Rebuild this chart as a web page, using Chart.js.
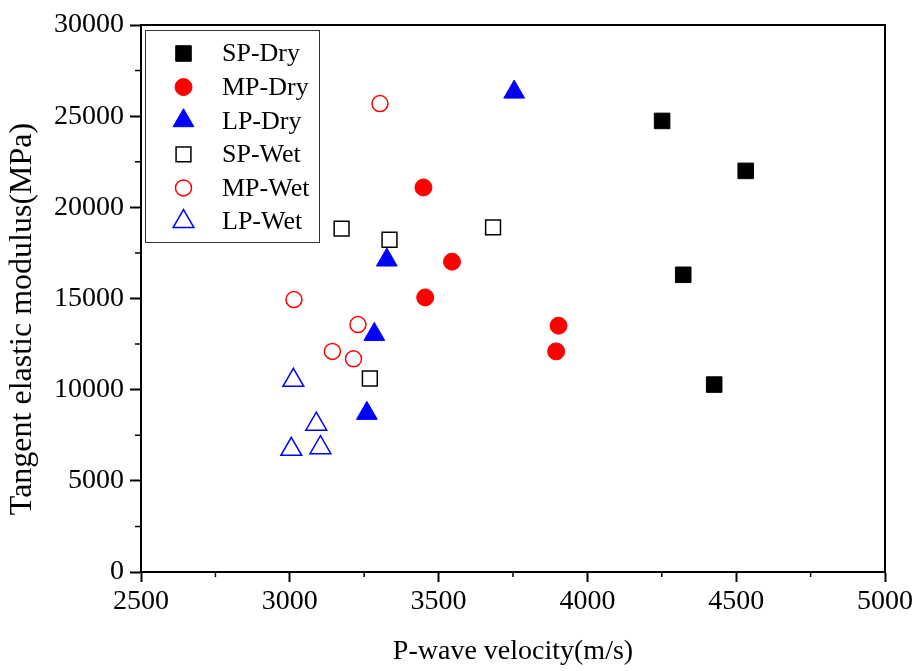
<!DOCTYPE html>
<html>
<head>
<meta charset="utf-8">
<script src="https://cdn.jsdelivr.net/npm/chart.js@4/dist/chart.umd.min.js"></script>
<style>
  body { margin: 0; background: #fff; }
  #wrap { width: 919px; height: 671px; }
</style>
</head>
<body>
<div id="wrap"><canvas id="modChart" width="919" height="671"></canvas></div>
<script>
// data
const seriesNames = ['SP-Dry', 'MP-Dry', 'LP-Dry', 'SP-Wet', 'MP-Wet', 'LP-Wet'];

const spDryX = [4251, 4532, 4322, 4426];
const spDryY = [24740, 22000, 16300, 10280];
const mpDryX = [3449, 3545, 3455, 3903, 3895];
const mpDryY = [21090, 17020, 15060, 13510, 12100];
const lpDryX = [3754, 3326, 3284, 3259];
const lpDryY = [26320, 17110, 13030, 8700];
const spWetX = [3174, 3335, 3683, 3269];
const spWetY = [18830, 18220, 18900, 10610];
const mpWetX = [3303, 3014, 3229, 3143, 3214];
const mpWetY = [25690, 14940, 13570, 12100, 11690];
const lpWetX = [3012, 3089, 3005, 3103];
const lpWetY = [10510, 8110, 6730, 6820];

const xTicks = [2500, 3000, 3500, 4000, 4500, 5000];
const yTicks = [0, 5000, 10000, 15000, 20000, 25000, 30000];

const FONT = '"Liberation Serif", "Times New Roman", serif';

function pts(xs, ys) {
    return xs.map((x, i) => ({ x: x, y: ys[i] }));
}

// marker styles per series (same order as seriesNames)
const styles = [
    { shape: 'rect', r: 11, fill: '#000000', stroke: '#000000', lw: 1 },
    { shape: 'circle', r: 8.5, fill: '#ff0000', stroke: '#ff0000', lw: 1 },
    { shape: 'triangle', r: 12, fill: '#0000ff', stroke: '#0000ff', lw: 1 },
    { shape: 'rect', r: 10.5, fill: 'rgba(0,0,0,0)', stroke: '#000000', lw: 1.5 },
    { shape: 'circle', r: 8, fill: 'rgba(0,0,0,0)', stroke: '#ff0000', lw: 1.5 },
    { shape: 'triangle', r: 12, fill: 'rgba(0,0,0,0)', stroke: '#0000ff', lw: 1.5 }
];

const allData = [
    pts(spDryX, spDryY), pts(mpDryX, mpDryY), pts(lpDryX, lpDryY),
    pts(spWetX, spWetY), pts(mpWetX, mpWetY), pts(lpWetX, lpWetY)
];

const datasets = seriesNames.map((name, i) => ({
    label: name,
    data: allData[i],
    pointStyle: styles[i].shape,
    pointRadius: styles[i].r,
    pointHoverRadius: styles[i].r,
    backgroundColor: styles[i].fill,
    borderColor: styles[i].stroke,
    borderWidth: styles[i].lw,
    showLine: false
}));

function drawMarker(ctx, s, x, y) {
    ctx.save();
    ctx.beginPath();
    if (s.shape === 'rect') {
        const h = Math.SQRT1_2 * s.r;
        ctx.rect(x - h, y - h, 2 * h, 2 * h);
    } else if (s.shape === 'circle') {
        ctx.arc(x, y, s.r, 0, Math.PI * 2);
    } else {
        let a = 0;
        ctx.moveTo(x + Math.sin(a) * s.r, y - Math.cos(a) * s.r);
        a += Math.PI * 2 / 3;
        ctx.lineTo(x + Math.sin(a) * s.r, y - Math.cos(a) * s.r);
        a += Math.PI * 2 / 3;
        ctx.lineTo(x + Math.sin(a) * s.r, y - Math.cos(a) * s.r);
    }
    ctx.closePath();
    ctx.fillStyle = s.fill;
    ctx.fill();
    ctx.lineWidth = s.lw;
    ctx.strokeStyle = s.stroke;
    ctx.stroke();
    ctx.restore();
}

// frame on top/right, minor ticks, y title and the boxed legend inside the plot
const framePlugin = {
    id: 'frame',
    afterDraw(chart) {
        const ctx = chart.ctx;
        const a = chart.chartArea;
        const xs = chart.scales.x;
        const ys = chart.scales.y;
        ctx.save();
        ctx.strokeStyle = '#000';
        ctx.lineWidth = 2;
        ctx.beginPath();
        ctx.moveTo(a.left - 1, a.top);
        ctx.lineTo(a.right, a.top);
        ctx.lineTo(a.right, a.bottom);
        ctx.stroke();

        // minor ticks
        ctx.lineWidth = 1.5;
        ctx.beginPath();
        for (let i = 0; i < xTicks.length - 1; i++) {
            const px = xs.getPixelForValue((xTicks[i] + xTicks[i + 1]) / 2);
            ctx.moveTo(px, a.bottom);
            ctx.lineTo(px, a.bottom + 5);
        }
        for (let i = 0; i < yTicks.length - 1; i++) {
            const py = ys.getPixelForValue((yTicks[i] + yTicks[i + 1]) / 2);
            ctx.moveTo(a.left, py);
            ctx.lineTo(a.left - 6, py);
        }
        ctx.stroke();

        // y axis title (sits a bit below the plot centre in the original)
        ctx.save();
        ctx.translate(23, 319);
        ctx.rotate(-Math.PI / 2);
        ctx.font = '32px ' + FONT;
        ctx.fillStyle = '#000';
        ctx.textAlign = 'center';
        ctx.textBaseline = 'middle';
        ctx.fillText('Tangent elastic modulus(MPa)', 0, 0);
        ctx.restore();

        // legend
        const bx = 145, by = 30, bw = 174, bh = 212;
        ctx.fillStyle = '#fff';
        ctx.fillRect(bx, by, bw, bh);
        ctx.lineWidth = 1;
        ctx.strokeStyle = '#333';
        ctx.strokeRect(bx + 0.5, by + 0.5, bw, bh);
        ctx.font = '26px ' + FONT;
        ctx.textBaseline = 'middle';
        ctx.textAlign = 'left';
        seriesNames.forEach((name, i) => {
            const yy = 53.5 + i * 33.6;
            drawMarker(ctx, styles[i], 183.5, yy);
            ctx.fillStyle = '#000';
            ctx.fillText(name, 222, yy + 1);
        });
        ctx.restore();
    }
};

new Chart(document.getElementById('modChart'), {
    type: 'scatter',
    data: { datasets: datasets },
    options: {
        responsive: false,
        animation: false,
        clip: false,
        layout: { padding: { top: 25, right: 34, left: 0, bottom: 0 } },
        plugins: {
            legend: { display: false },
            tooltip: { enabled: false }
        },
        scales: {
            x: {
                type: 'linear',
                min: 2500,
                max: 5000,
                afterBuildTicks(scale) {
                    scale.ticks = xTicks.map(v => ({ value: v }));
                },
                afterFit(scale) { scale.height = 99; },
                grid: { drawOnChartArea: false, drawTicks: true, tickLength: 10, tickWidth: 2, tickColor: '#000' },
                border: { display: true, color: '#000', width: 2 },
                ticks: {
                    color: '#000',
                    font: { family: FONT, size: 28 },
                    padding: 3,
                    maxRotation: 0,
                    callback: v => String(v)
                },
                title: {
                    display: true,
                    text: 'P-wave velocity(m/s)',
                    color: '#000',
                    font: { family: FONT, size: 28 },
                    padding: { top: 0, bottom: 3 }
                }
            },
            y: {
                type: 'linear',
                min: 0,
                max: 30000,
                afterBuildTicks(scale) {
                    scale.ticks = yTicks.map(v => ({ value: v }));
                },
                afterFit(scale) { scale.width = 141; },
                grid: { drawOnChartArea: false, drawTicks: true, tickLength: 11, tickWidth: 2, tickColor: '#000' },
                border: { display: true, color: '#000', width: 2 },
                ticks: {
                    color: '#000',
                    font: { family: FONT, size: 28 },
                    padding: 6,
                    callback: v => String(v)
                },
                title: { display: false }
            }
        }
    },
    plugins: [framePlugin]
});
</script>
</body>
</html>
